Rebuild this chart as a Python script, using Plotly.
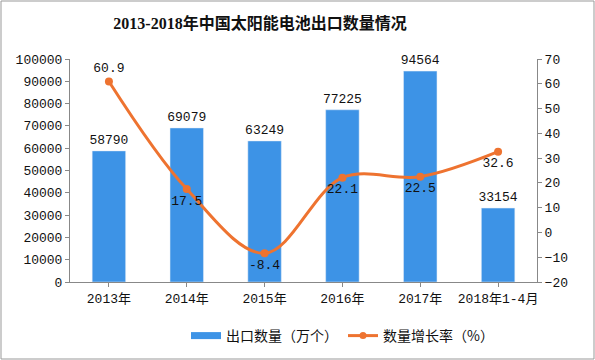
import plotly.graph_objects as go

categories = ["2013年", "2014年", "2015年", "2016年", "2017年", "2018年1-4月"]
export_qty = [58790, 69079, 63249, 77225, 94564, 33154]
growth_rate = [60.9, 17.5, -8.4, 22.1, 22.5, 32.6]
growth_labels = ["60.9", "17.5", "-8.4", "22.1", "22.5", "32.6"]
growth_pos = ["top center", "bottom center", "bottom center", "bottom center", "bottom center", "bottom center"]

FONT = "Noto Sans CJK SC"
NUMFONT = "Liberation Mono, Noto Sans CJK SC"
BLUE = "#3D93E6"
ORANGE = "#EE7330"

fig = go.Figure()
fig.add_trace(go.Bar(
    x=categories, y=export_qty, name="出口数量（万个）", showlegend=False,
    marker=dict(color=BLUE), width=0.43,
    text=[str(v) for v in export_qty], textposition="outside", constraintext="none",
    textfont=dict(size=13, color="#111", family=NUMFONT), cliponaxis=False,
))
fig.add_trace(go.Scatter(
    x=categories, y=growth_rate, name="数量增长率（%）", yaxis="y2", showlegend=False,
    mode="lines+markers+text",
    line=dict(color=ORANGE, width=3, shape="spline", smoothing=1.0),
    marker=dict(color=ORANGE, size=8),
    text=growth_labels, textposition=growth_pos,
    textfont=dict(size=13, color="#111", family=NUMFONT), cliponaxis=False,
))
# legend entries
fig.add_trace(go.Scatter(x=[None], y=[None], mode="lines", name="出口数量（万个）",
                         line=dict(color=BLUE, width=7)))
fig.add_trace(go.Scatter(x=[None], y=[None], mode="lines+markers", name="数量增长率（%）",
                         line=dict(color=ORANGE, width=3), marker=dict(color=ORANGE, size=7),
                         yaxis="y2"))

W, H = 595, 360
ml, mr, mt, mb = 70, 58, 59, 78
pw = W - ml - mr
ph = H - mt - mb
fig.update_layout(
    width=W, height=H,
    margin=dict(l=ml, r=mr, t=mt, b=mb, autoexpand=False),
    paper_bgcolor="white", plot_bgcolor="white",
    font=dict(family=FONT, size=12, color="#222"),
    title=dict(text="<b>2013-2018年中国太阳能电池出口数量情况</b>", x=(260 - ml) / pw, xref="paper",
               xanchor="center", y=1 - 23 / H, yanchor="middle",
               font=dict(size=16, color="#111", family="Liberation Serif, Noto Sans CJK SC")),
    bargap=0.57,
    xaxis=dict(showline=True, linecolor="#888", ticks="outside", ticklen=4, tickcolor="#888",
               showgrid=False, tickfont=dict(size=13, family=NUMFONT, color="#111"), range=[-0.5, 5.5],
               automargin=False),
    yaxis=dict(range=[0, 100000], dtick=10000, showgrid=False, showline=True, linecolor="#888",
               ticks="outside", ticklen=4, tickcolor="#888",
               tickfont=dict(size=13, family=NUMFONT, color="#111"),
               zeroline=False, tickformat="d", automargin=False),
    yaxis2=dict(range=[-20, 70], dtick=10, overlaying="y", side="right", showgrid=False,
                showline=True, linecolor="#888", ticks="outside", ticklen=4, tickcolor="#888",
                tickfont=dict(size=13, family=NUMFONT, color="#111"), zeroline=False,
                automargin=False),
    legend=dict(orientation="h", xref="container", yref="container",
                x=186 / W, xanchor="left", y=1 - 336 / H,
                yanchor="middle", font=dict(size=14, color="#111"), itemwidth=30,
                traceorder="normal", bgcolor="rgba(0,0,0,0)"),
    showlegend=True,
)
fig.add_shape(type="rect", xref="paper", yref="paper",
              x0=(1 - ml) / pw, x1=(W - 1 - ml) / pw,
              y0=-(mb - 1) / ph, y1=(H - 1 - mb) / ph,
              line=dict(color="#999", width=1), fillcolor="rgba(0,0,0,0)", layer="below")
fig.write_html("out.html", config={"displayModeBar": False},
               post_script="document.body.style.margin='0px';document.body.style.overflow='hidden';")
